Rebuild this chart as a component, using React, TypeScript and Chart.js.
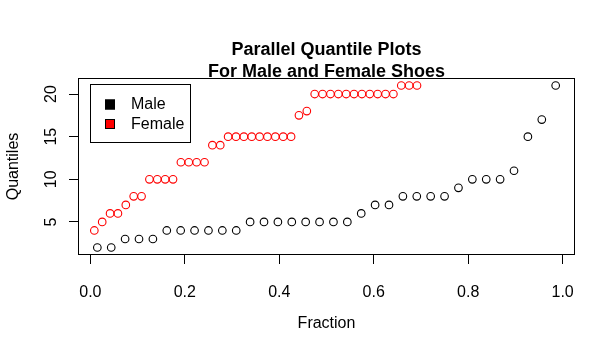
import React, { useEffect, useRef } from "react";
import { Chart, registerables } from "chart.js";

Chart.register(...registerables);

// Sorted shoe counts (quantiles)
const maleQuantiles = [
  2, 2, 3, 3, 3, 4, 4, 4, 4, 4, 4, 5, 5, 5, 5, 5, 5, 5, 5, 6, 7, 7, 8, 8, 8, 8,
  9, 10, 10, 10, 11, 15, 17, 21,
];
// Only the female quantiles that fall inside the plotted range are visible
const femaleQuantiles = [
  4, 5, 6, 6, 7, 8, 8, 10, 10, 10, 10, 12, 12, 12, 12, 14, 14, 15, 15, 15, 15, 15,
  15, 15, 15, 15, 17.5, 18, 20, 20, 20, 20, 20, 20, 20, 20, 20, 20, 20, 21, 21, 21,
];
const maleSampleSize = 34;
const femaleSampleSize = 60;

const seriesNames = ["Male", "Female"];
const seriesColors = ["#000000", "#ff0000"];
const xTicks = [0, 0.2, 0.4, 0.6, 0.8, 1.0];
const xTickLabels = ["0.0", "0.2", "0.4", "0.6", "0.8", "1.0"];
const yTicks = [5, 10, 15, 20];
const titleLines = ["Parallel Quantile Plots", "For Male and Female Shoes"];
const xAxisTitle = "Fraction";
const yAxisTitle = "Quantiles";

const FONT = '"Liberation Sans", Arial, Helvetica, sans-serif';

const toPoints = (values: number[], n: number) =>
  values.map((q, i) => ({ x: (i + 0.5) / n, y: q }));

export default function App() {
  const canvasRef = useRef<HTMLCanvasElement | null>(null);

  useEffect(() => {
    const canvas = canvasRef.current;
    if (!canvas) return;

    const malePts = toPoints(maleQuantiles, maleSampleSize);
    const xLo = malePts[0].x;
    const xHi = malePts[malePts.length - 1].x;
    const xPad = 0.04 * (xHi - xLo);
    const yLo = Math.min(...maleQuantiles);
    const yHi = Math.max(...maleQuantiles);
    const yPad = 0.04 * (yHi - yLo);

    const rPlugin = {
      id: "rDecor",
      afterDraw(chart: any) {
        const { ctx, chartArea: a, scales } = chart;
        ctx.save();
        ctx.strokeStyle = "#000";
        ctx.lineWidth = 1;
        const L = Math.round(a.left) - 0.5;
        const T = Math.round(a.top) - 0.5;
        const R = Math.round(a.right) + 0.5;
        const B = Math.round(a.bottom) + 0.5;
        ctx.strokeRect(L, T, R - L, B - T);

        // rotated y tick labels (R style)
        ctx.fillStyle = "#000";
        ctx.font = `16px ${FONT}`;
        ctx.textAlign = "center";
        ctx.textBaseline = "middle";
        yTicks.forEach((v) => {
          const y = scales.y.getPixelForValue(v);
          ctx.save();
          ctx.translate(52, y);
          ctx.rotate(-Math.PI / 2);
          ctx.fillText(String(v), 0, 0);
          ctx.restore();
        });

        // legend box
        ctx.strokeRect(90.5, 84.5, 100, 58);
        const rows = [104.5, 124];
        seriesNames.forEach((name, i) => {
          const cy = rows[i];
          ctx.fillStyle = seriesColors[i];
          ctx.fillRect(105, cy - 5, 10, 10);
          ctx.strokeStyle = "#000";
          ctx.strokeRect(105.5, cy - 4.5, 9, 9);
          ctx.fillStyle = "#000";
          ctx.textAlign = "left";
          ctx.textBaseline = "middle";
          ctx.fillText(name, 131, cy + 0.5);
        });
        ctx.restore();
      },
    };

    const chart = new Chart(canvas, {
      type: "scatter",
      data: {
        datasets: [
          {
            label: seriesNames[0],
            data: malePts,
            borderColor: seriesColors[0],
            backgroundColor: "rgba(0,0,0,0)",
            pointRadius: 3.8,
            borderWidth: 1.1,
          },
          {
            label: seriesNames[1],
            data: toPoints(femaleQuantiles, femaleSampleSize),
            borderColor: seriesColors[1],
            backgroundColor: "rgba(0,0,0,0)",
            pointRadius: 3.8,
            borderWidth: 1.1,
          },
        ],
      },
      options: {
        responsive: false,
        animation: false,
        layout: { padding: { left: 0, right: 40, top: 0, bottom: 0 } },
        plugins: {
          legend: { display: false },
          tooltip: { enabled: false },
          title: {
            display: true,
            fullSize: false,
            text: titleLines,
            color: "#000",
            font: { family: FONT, size: 18, weight: "bold", lineHeight: 1.22 },
            padding: { top: 39, bottom: -3.9 },
          },
        },
        scales: {
          x: {
            type: "linear",
            min: xLo - xPad,
            max: xHi + xPad,
            afterBuildTicks: (s: any) => {
              s.ticks = xTicks.map((v) => ({ value: v }));
            },
            afterFit: (s: any) => {
              s.height = 99;
            },
            border: { display: false },
            grid: {
              drawOnChartArea: false,
              drawTicks: true,
              tickLength: 10,
              color: "#000",
              tickColor: "#000",
              lineWidth: 1,
            },
            ticks: {
              color: "#000",
              font: { family: FONT, size: 16 },
              padding: 19,
              maxRotation: 0,
              autoSkip: false,
              callback: (_v: any, i: number) => xTickLabels[i],
            },
            title: {
              display: true,
              text: xAxisTitle,
              color: "#000",
              font: { family: FONT, size: 16 },
              padding: { top: 0, bottom: 19.4 },
            },
          },
          y: {
            type: "linear",
            min: yLo - yPad,
            max: yHi + yPad,
            afterBuildTicks: (s: any) => {
              s.ticks = yTicks.map((v) => ({ value: v }));
            },
            afterFit: (s: any) => {
              s.width = 79;
            },
            border: { display: false },
            grid: {
              drawOnChartArea: false,
              drawTicks: true,
              tickLength: 10,
              color: "#000",
              tickColor: "#000",
              lineWidth: 1,
            },
            ticks: { display: false },
            title: {
              display: true,
              text: yAxisTitle,
              color: "#000",
              font: { family: FONT, size: 16 },
              padding: { top: 4.4, bottom: 0 },
            },
          },
        },
      },
      plugins: [rPlugin],
    } as any);

    return () => chart.destroy();
  }, []);

  return (
    <div style={{ position: "absolute", left: 0, top: 0, width: 614, height: 353, background: "#fff" }}>
      <canvas ref={canvasRef} width={614} height={353} style={{ display: "block", width: 614, height: 353 }} />
    </div>
  );
}
